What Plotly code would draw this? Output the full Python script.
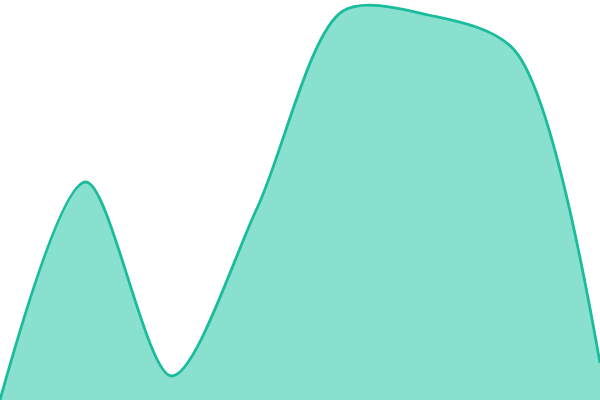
import plotly.graph_objects as go

# sample positions and heights
steps = [0, 1, 2, 3, 4, 5, 6, 7]
heights = [0, 218, 24, 192, 389, 385, 350, 37]

LINE_COLOR = "#1abc9c"
FILL_COLOR = "#89e0cf"

fig = go.Figure()
fig.add_trace(
    go.Scatter(
        x=steps,
        y=heights,
        mode="lines",
        line=dict(color=LINE_COLOR, width=2.8, shape="spline", smoothing=0.85),
        fill="tozeroy",
        fillcolor=FILL_COLOR,
        showlegend=False,
        hoverinfo="skip",
    )
)
fig.update_layout(
    width=600,
    height=400,
    margin=dict(l=0, r=0, t=0, b=0),
    paper_bgcolor="white",
    plot_bgcolor="white",
)
fig.update_xaxes(visible=False, range=[0, 7])
fig.update_yaxes(visible=False, range=[0, 400])

# drop the default page margin so the chart sits flush in the window
fig.write_html(
    "out.html",
    config={"displayModeBar": False},
    post_script="document.body.style.margin='0';",
)
